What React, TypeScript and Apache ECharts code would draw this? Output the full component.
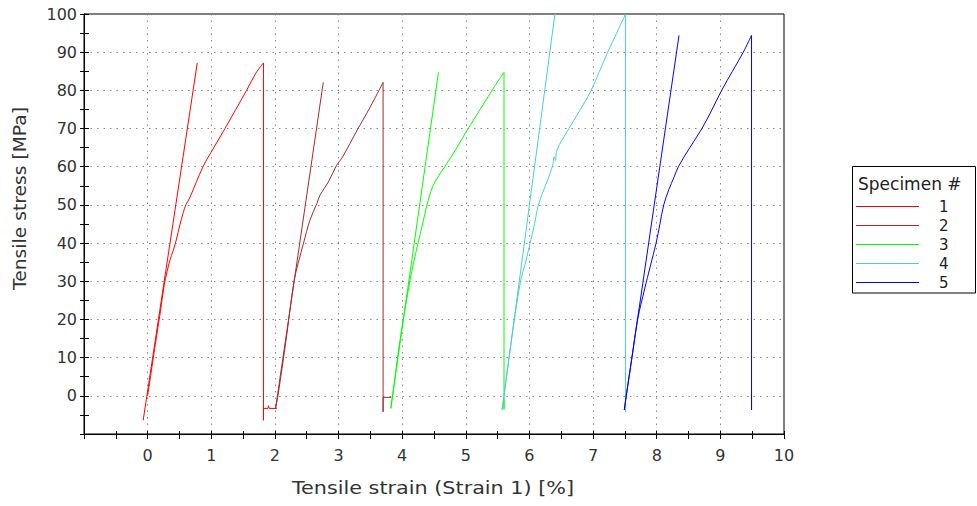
import { useEffect, useRef } from 'react';
import * as echarts from 'echarts';

// Specimen labels and line colours
const specimenNames = ['1', '2', '3', '4', '5'];
const specimenColors = ['#ff0000', '#a52a2a', '#00ff00', '#48d1cc', '#0000ff'];

// Axis ranges: strain [%] and stress [MPa]
const strainRange = [-1, 10];
const stressRange = [-10, 100];

// Points are [strain %, stress MPa]
// Straight modulus line for each specimen
const modulus1 = [[-0.07, -6.4], [0.78, 87.2]];
const modulus2 = [[2.01, -3.3], [2.76, 82.1]];
const modulus3 = [[3.82, -3.3], [4.57, 84.7]];
const modulus4 = [[5.57, -3.7], [6.4, 100]];
const modulus5 = [[7.49, -3.7], [8.35, 94.4]];

// Loading part of each measured curve, up to the maximum stress
const curve1 = [
  [0.0, 0.0], [0.13, 14.5], [0.2, 22], [0.26, 29], [0.305, 32.5], [0.35, 35.5],
  [0.4, 38], [0.445, 40.5], [0.51, 45], [0.56, 48], [0.6, 50], [0.66, 51.8],
  [0.87, 60], [1.04, 65], [1.215, 70], [1.385, 75], [1.555, 80], [1.7, 84.5],
  [1.82, 87.2],
];
const curve2 = [
  [2.01, -3.3], [2.05, 0.3], [2.17, 14], [2.3, 30], [2.37, 35], [2.45, 40],
  [2.55, 46], [2.66, 50.4], [2.71, 52.6], [2.84, 56], [2.97, 60.4], [3.05, 62.2],
  [3.18, 66.1], [3.3, 69.8], [3.44, 73.9], [3.57, 77.9], [3.7, 82.1],
];
const curve3 = [
  [3.82, -3.3], [3.85, 0], [3.97, 15], [4.12, 30], [4.18, 35], [4.25, 40],
  [4.32, 45], [4.39, 50], [4.45, 53.5], [4.52, 56.2], [4.67, 60], [4.86, 65],
  [5.0, 69], [5.15, 73], [5.3, 77], [5.45, 81], [5.6, 84.7],
];
const curve4 = [
  [5.57, -3.7], [5.6, 0], [5.72, 15], [5.86, 30], [5.94, 35], [6.01, 40],
  [6.08, 45], [6.14, 50], [6.25, 55], [6.36, 60], [6.39, 62.6], [6.41, 61.6],
  [6.43, 64.3], [6.62, 70], [6.8, 75], [6.97, 80], [7.1, 85], [7.23, 90],
  [7.37, 95], [7.51, 100],
];
const curve5 = [
  [7.49, -3.7], [7.52, 0], [7.61, 10], [7.7, 20], [7.81, 28], [7.9, 34],
  [7.99, 40], [8.05, 45], [8.11, 50], [8.19, 54], [8.27, 57.2], [8.34, 60],
  [8.52, 65], [8.71, 70], [8.87, 75], [9.02, 80], [9.19, 85], [9.36, 90],
  [9.49, 94.4],
];

// Drop at break and the short tail that follows
const drop1 = [[1.82, 87.2], [1.82, -6.4], [1.82, -3.3], [1.89, -3.3], [1.9, -2.6], [1.91, -3.3], [2.03, -3.3]];
const drop2 = [[3.7, 82.1], [3.7, -4.2], [3.7, -0.4], [3.83, -0.4]];
const drop3 = [[5.6, 84.7], [5.6, -3.5], [5.6, -1.0]];
const drop4 = [[7.51, 100], [7.51, -4.2]];
const drop5 = [[9.49, 94.4], [9.49, -3.7], [9.49, 0.4], [9.5, 0.4]];

const moduli = [modulus1, modulus2, modulus3, modulus4, modulus5];
const curves = [curve1, curve2, curve3, curve4, curve5];
const drops = [drop1, drop2, drop3, drop4, drop5];

const FONT = 'DejaVu Sans';
const TEXT_COLOR = '#333';

function buildOption() {
  const series: any[] = [];
  specimenNames.forEach((name, i) => {
    const color = specimenColors[i];
    const common = {
      name,
      type: 'line',
      showSymbol: false,
      symbol: 'none',
      color,
      itemStyle: { color },
      lineStyle: { width: 1, color },
      clip: true,
      silent: true,
    };
    series.push({ ...common, data: moduli[i] });
    series.push({ ...common, data: curves[i], smooth: 0.35 });
    series.push({ ...common, data: drops[i] });
  });

  const tickLine = { color: '#000', width: 1 };
  const dotted = { color: '#888', width: 1, type: [1.5, 5] };

  return {
    animation: false,
    backgroundColor: '#fff',
    grid: {
      left: 84,
      top: 14,
      width: 700,
      height: 420,
      show: true,
      borderColor: '#000',
      borderWidth: 1,
      containLabel: false,
    },
    xAxis: [
      {
        type: 'value',
        min: strainRange[0],
        max: strainRange[1],
        interval: 1,
        position: 'bottom',
        axisLine: { show: true, onZero: false, lineStyle: tickLine },
        axisTick: { show: true, inside: false, length: 5, lineStyle: tickLine },
        minorTick: { show: true, splitNumber: 2, length: 5, lineStyle: tickLine },
        axisLabel: {
          margin: 13,
          fontFamily: FONT,
          fontSize: 16,
          color: TEXT_COLOR,
          formatter: (v: number) => (v < 0 ? '' : String(v)),
        },
        splitLine: { show: true, showMinLine: false, showMaxLine: false, lineStyle: dotted },
      },
      {
        type: 'value',
        min: strainRange[0],
        max: strainRange[1],
        interval: 1,
        position: 'bottom',
        axisLine: { show: false, onZero: false },
        axisTick: { show: true, inside: true, length: 3, lineStyle: tickLine },
        minorTick: { show: true, splitNumber: 2, length: 3, lineStyle: tickLine },
        axisLabel: { show: false },
        splitLine: { show: false },
      },
    ],
    yAxis: [
      {
        type: 'value',
        min: stressRange[0],
        max: stressRange[1],
        interval: 10,
        position: 'left',
        axisLine: { show: true, onZero: false, lineStyle: tickLine },
        axisTick: { show: true, inside: false, length: 4, lineStyle: tickLine },
        minorTick: { show: true, splitNumber: 2, length: 4, lineStyle: tickLine },
        axisLabel: {
          margin: 7,
          fontFamily: FONT,
          fontSize: 16,
          color: TEXT_COLOR,
          formatter: (v: number) => (v < 0 ? '' : String(v)),
        },
        splitLine: { show: true, showMinLine: false, showMaxLine: false, lineStyle: dotted },
      },
      {
        type: 'value',
        min: stressRange[0],
        max: stressRange[1],
        interval: 10,
        position: 'left',
        axisLine: { show: false, onZero: false },
        axisTick: { show: true, inside: true, length: 5, lineStyle: tickLine },
        minorTick: { show: true, splitNumber: 2, length: 5, lineStyle: tickLine },
        axisLabel: { show: false },
        splitLine: { show: false },
      },
    ],
    legend: {
      data: specimenNames,
      orient: 'vertical',
      left: 856,
      top: 197,
      padding: 0,
      itemWidth: 63,
      itemHeight: 1,
      itemGap: 0,
      icon: 'rect',
      selectedMode: false,
      itemStyle: { borderWidth: 0 },
      textStyle: {
        fontFamily: FONT,
        fontSize: 15,
        color: '#222',
        lineHeight: 19,
        padding: [0, 0, 0, 15],
      },
    },
    graphic: [
      {
        type: 'rect',
        shape: { x: 852.5, y: 166.5, width: 123, height: 126.5 },
        style: { fill: 'none', stroke: '#000', lineWidth: 1 },
        silent: true,
      },
      {
        type: 'text',
        x: 858,
        y: 184,
        silent: true,
        style: {
          text: 'Specimen #',
          font: `17px "${FONT}"`,
          fill: '#222',
          textAlign: 'left',
          textVerticalAlign: 'middle',
          align: 'left',
          verticalAlign: 'middle',
        },
      },
      {
        type: 'text',
        x: 433,
        y: 488,
        scaleX: 1.22,
        silent: true,
        style: {
          text: 'Tensile strain (Strain 1) [%]',
          font: `17px "${FONT}"`,
          fill: TEXT_COLOR,
          textAlign: 'center',
          textVerticalAlign: 'middle',
          align: 'center',
          verticalAlign: 'middle',
        },
      },
      {
        type: 'text',
        x: 20,
        y: 198.5,
        rotation: Math.PI / 2,
        scaleX: 1.1,
        silent: true,
        style: {
          text: 'Tensile stress [MPa]',
          font: `17px "${FONT}"`,
          fill: TEXT_COLOR,
          textAlign: 'center',
          textVerticalAlign: 'middle',
          align: 'center',
          verticalAlign: 'middle',
        },
      },
    ],
    series,
  };
}

export default function App() {
  const ref = useRef<HTMLDivElement>(null);

  useEffect(() => {
    if (!ref.current) return;
    const chart = echarts.init(ref.current, undefined, { renderer: 'svg' });
    chart.setOption(buildOption() as any);
    return () => chart.dispose();
  }, []);

  return (
    <div
      ref={ref}
      style={{ position: 'fixed', left: 0, top: 0, width: 977, height: 506, background: '#fff' }}
    />
  );
}
